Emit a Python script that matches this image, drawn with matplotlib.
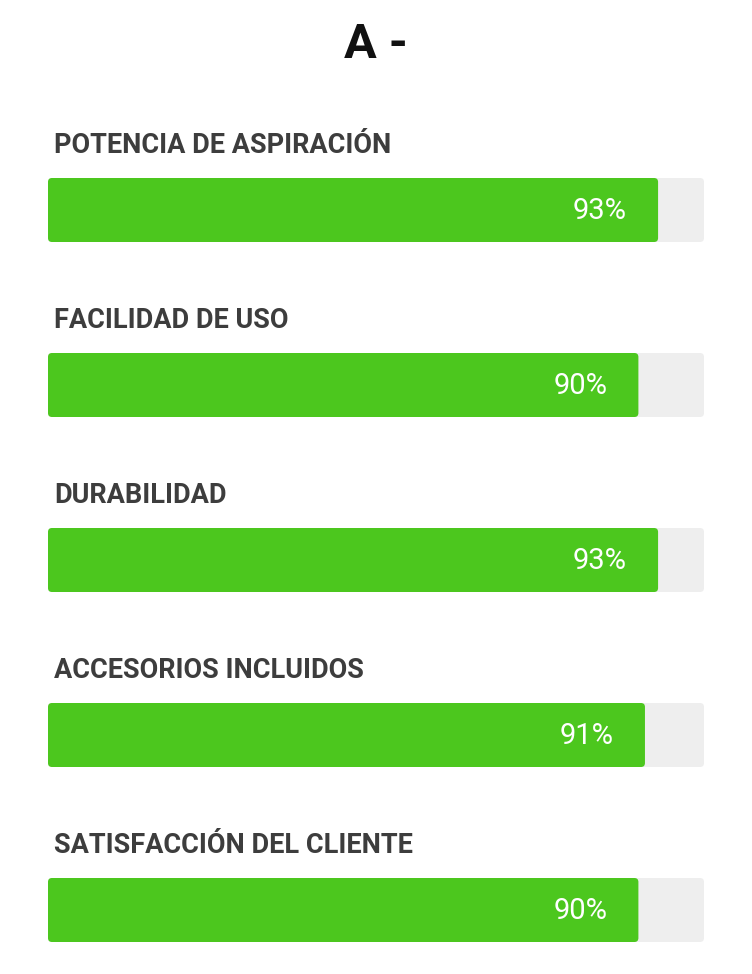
import matplotlib
import matplotlib.pyplot as plt
from matplotlib.patches import FancyBboxPatch

matplotlib.use("Agg")

title = "A -"
categories = [
    "POTENCIA DE ASPIRACIÓN",
    "FACILIDAD DE USO",
    "DURABILIDAD",
    "ACCESORIOS INCLUIDOS",
    "SATISFACCIÓN DEL CLIENTE",
]
scores = [93, 90, 93, 91, 90]

GREEN = "#4cc71e"
TRACK = "#eeeeee"
LABEL = "#3d3d3d"

# layout in pixels (figure is 752 x 974 at dpi 100)
W, H = 752, 974
x0, x1 = 48, 704
first_top, step, bar_h = 178, 175, 64

fig = plt.figure(figsize=(W / 100, H / 100), dpi=100)
ax = fig.add_axes([0, 0, 1, 1])
ax.set_xlim(0, W)
ax.set_ylim(H, 0)
ax.axis("off")

ax.text(W / 2, 58, title, ha="center", va="baseline", fontsize=35,
        fontweight="bold", family="Roboto", color="#111111")

track_w = x1 - x0
for i, (name, val) in enumerate(zip(categories, scores)):
    top = first_top + i * step
    ax.text(x0 + 6, top - 25, name, ha="left", va="baseline", fontsize=19.5,
            fontweight="bold", family="Roboto", color=LABEL)
    ax.add_patch(FancyBboxPatch((x0, top), track_w, bar_h,
                                boxstyle="round,pad=0,rounding_size=4",
                                fc=TRACK, ec="none"))
    w = track_w * val / 100
    ax.add_patch(FancyBboxPatch((x0, top), w, bar_h,
                                boxstyle="round,pad=0,rounding_size=4",
                                fc=GREEN, ec="none"))
    ax.text(x0 + w - 31, top + bar_h / 2 + 1, f"{val}%", ha="right",
            va="center", fontsize=21, family="Roboto", color="white")

fig.savefig("out.png", dpi=100, facecolor="white")
